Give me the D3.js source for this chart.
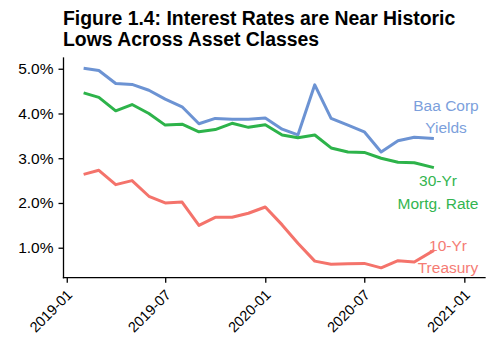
<!DOCTYPE html>
<html>
<head>
<meta charset="utf-8">
<script src="https://cdn.jsdelivr.net/npm/d3@7"></script>
<style>
  html, body { margin: 0; padding: 0; background: #fff; }
  svg { display: block; font-family: "Liberation Sans", Arial, sans-serif; }
</style>
</head>
<body>
<svg id="chart" width="488" height="337"></svg>
<script>
// Monthly observations, Feb 2019 – Nov 2020
const dates = [
  "2019-02-01","2019-03-01","2019-04-01","2019-05-01","2019-06-01","2019-07-01",
  "2019-08-01","2019-09-01","2019-10-01","2019-11-01","2019-12-01","2020-01-01",
  "2020-02-01","2020-03-01","2020-04-01","2020-05-01","2020-06-01","2020-07-01",
  "2020-08-01","2020-09-01","2020-10-01","2020-11-06"
];
const baaCorp = [5.01, 4.96, 4.67, 4.65, 4.52, 4.32, 4.15, 3.77, 3.89, 3.87, 3.87, 3.90,
                 3.65, 3.52, 4.64, 3.89, 3.74, 3.59, 3.14, 3.39, 3.47, 3.44];
const mortgage30 = [4.46, 4.36, 4.06, 4.20, 4.00, 3.74, 3.76, 3.59, 3.64, 3.78, 3.69, 3.75,
                    3.52, 3.46, 3.52, 3.23, 3.14, 3.13, 3.00, 2.91, 2.90, 2.79];
const treasury10 = [2.64, 2.73, 2.41, 2.50, 2.15, 2.00, 2.02, 1.50, 1.68, 1.68, 1.77, 1.91,
                    1.51, 1.10, 0.70, 0.63, 0.64, 0.65, 0.55, 0.71, 0.68, 0.94];

const seriesNames = ["Baa Corp\nYields", "30-Yr\nMortg. Rate", "10-Yr\nTreasury"];
const seriesColors = ["#6c93d3", "#2db34a", "#f4736b"];
const labelColors = ["#7c9fdc", "#33b550", "#f57c74"];
const yTicks = [1, 2, 3, 4, 5];
const xTicks = ["2019-01-01", "2019-07-01", "2020-01-01", "2020-07-01", "2021-01-01"];
const titleLines = ["Figure 1.4: Interest Rates are Near Historic", "Lows Across Asset Classes"];

const parse = d3.utcParse("%Y-%m-%d");
const dts = dates.map(parse);
const series = [baaCorp, mortgage30, treasury10].map((vals, i) => ({
  name: seriesNames[i], color: seriesColors[i], labelColor: labelColors[i],
  points: vals.map((v, j) => ({ date: dts[j], value: v }))
}));

const svg = d3.select("#chart");
const plot = { left: 63.5, right: 485, top: 58, bottom: 277.7 };

const x = d3.scaleUtc()
  .domain([parse("2018-12-26"), parse("2021-02-08")])
  .range([plot.left, plot.right]);
const y = d3.scaleLinear()
  .domain([0.33, 5.24])
  .range([plot.bottom, plot.top]);

// Title
svg.append("g").selectAll("text").data(titleLines).join("text")
  .attr("x", 63)
  .attr("y", (d, i) => 25 + i * 20.5)
  .attr("font-size", "19.4px")
  .attr("font-weight", "bold")
  .attr("fill", "#000")
  .text(d => d);

// Lines
const line = d3.line().x(d => x(d.date)).y(d => y(d.value));
svg.append("g").selectAll("path").data(series).join("path")
  .attr("d", d => line(d.points))
  .attr("fill", "none")
  .attr("stroke", d => d.color)
  .attr("stroke-width", 3)
  .attr("stroke-linejoin", "round");

// Y axis
const yAxis = svg.append("g")
  .attr("transform", `translate(${plot.left},0)`)
  .call(d3.axisLeft(y).tickValues(yTicks).tickFormat(d => d3.format(".1f")(d) + "%").tickSize(5).tickPadding(5));
yAxis.select(".domain").attr("d", `M0,${plot.top}V${plot.bottom}`);

// X axis
const xAxis = svg.append("g")
  .attr("transform", `translate(0,${plot.bottom})`)
  .call(d3.axisBottom(x).tickValues(xTicks.map(parse)).tickFormat(d3.utcFormat("%Y-%m")).tickSize(5));
xAxis.select(".domain").attr("d", `M${plot.left},0H${plot.right}`);
xAxis.selectAll(".tick text")
  .attr("text-anchor", "end")
  .attr("dy", null)
  .attr("y", null)
  .attr("transform", "translate(6,18) rotate(-45)");

svg.selectAll(".domain, .tick line").attr("stroke", "#000").attr("stroke-width", 1.3);
yAxis.selectAll(".tick text").attr("font-size", "15.5px").attr("fill", "#000").attr("font-family", null);
xAxis.selectAll(".tick text").attr("font-size", "14.5px").attr("fill", "#000").attr("font-family", null);
svg.selectAll(".domain").attr("stroke-linecap", "square");

// Series labels
const labelPos = [
  { x: 446, y: [111, 133] },
  { x: 438, y: [186, 209] },
  { x: 448, y: [251, 273] }
];
series.forEach((s, i) => {
  s.name.split("\n").forEach((ln, k) => {
    svg.append("text")
      .attr("x", labelPos[i].x)
      .attr("y", labelPos[i].y[k])
      .attr("text-anchor", "middle")
      .attr("font-size", "15.5px")
      .attr("fill", s.labelColor)
      .text(ln);
  });
});
</script>
</body>
</html>
